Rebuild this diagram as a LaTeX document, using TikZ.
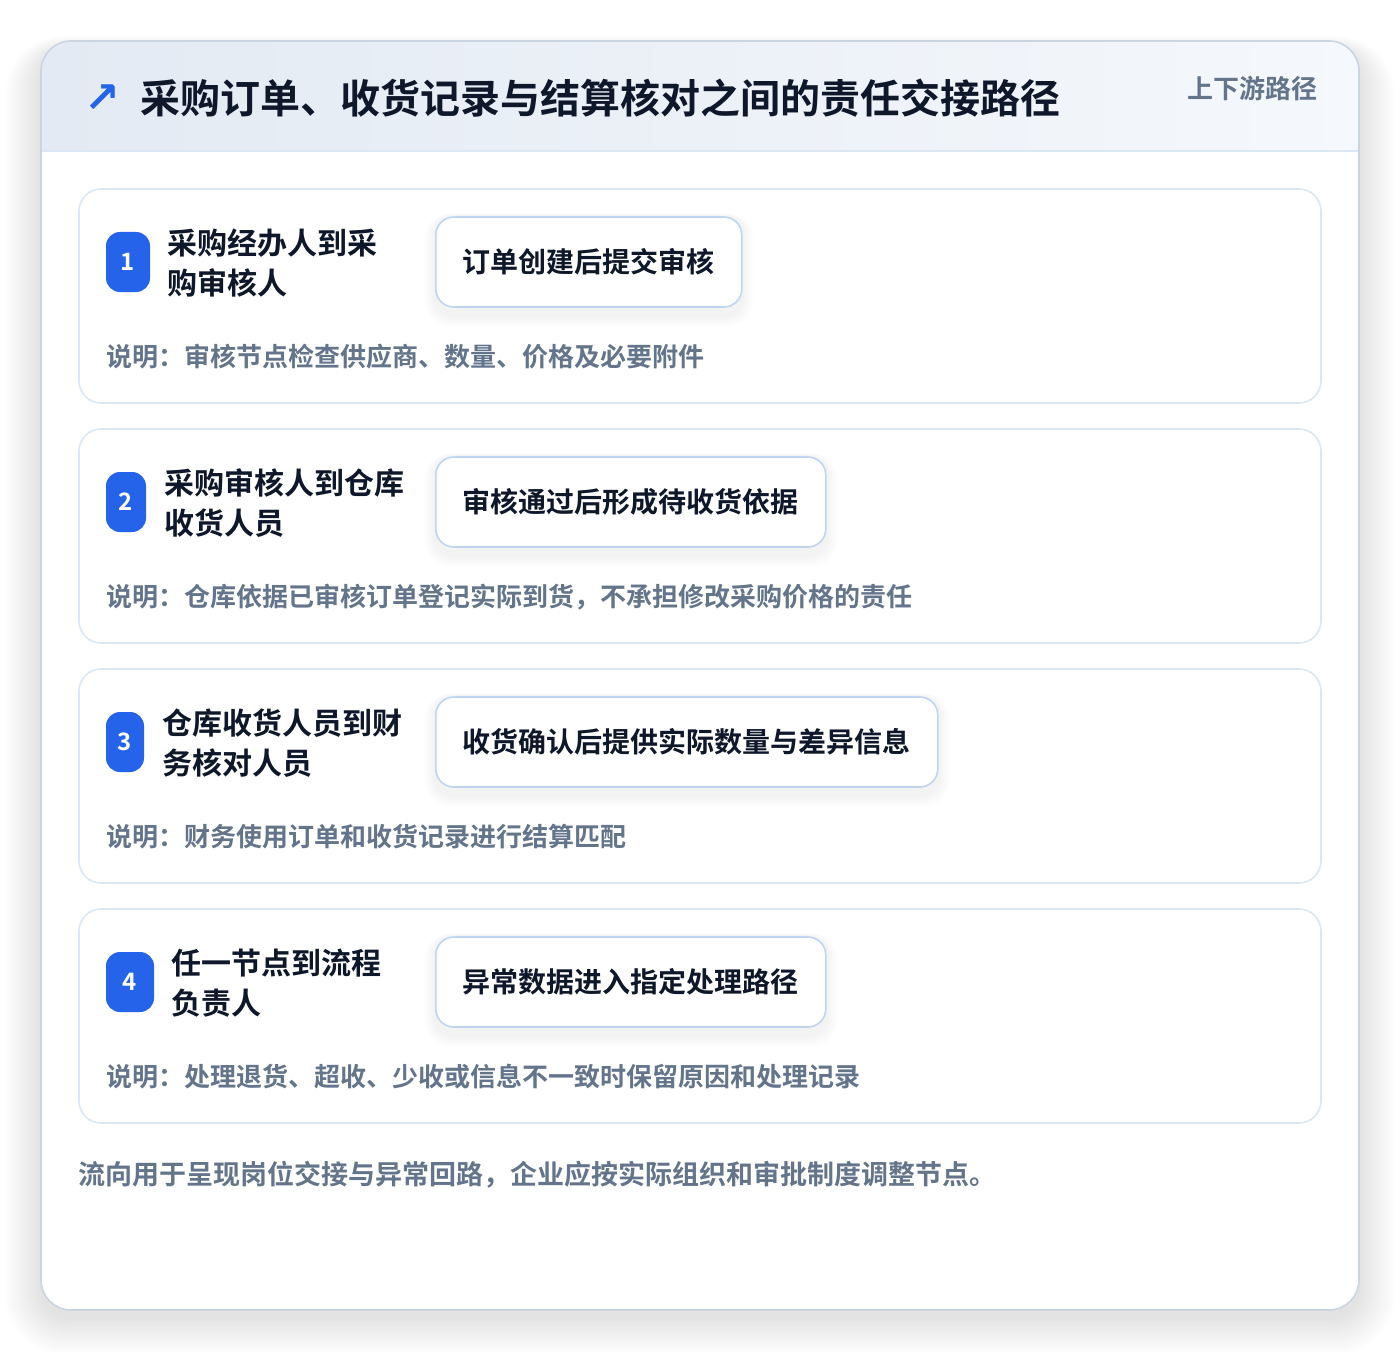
\documentclass[tikz,border=0pt]{standalone}
\usepackage{fontspec}
\setmainfont{Noto Sans CJK SC}[BoldFont={Noto Sans CJK SC Bold}]
\newfontfamily\dejavu{DejaVu Sans}
\definecolor{accent}{HTML}{2563EB}
\definecolor{ink}{HTML}{0F172A}
\definecolor{muted}{HTML}{64748B}
\definecolor{cardline}{HTML}{DBE7F5}
\definecolor{boxline}{HTML}{BFD5F2}
\definecolor{outerline}{HTML}{CBD5E1}
\definecolor{headL}{HTML}{E3EAF3}
\definecolor{headR}{HTML}{F5F8FC}
\pgfdeclarelayer{bg}
\pgfdeclarelayer{mid}
\pgfsetlayers{bg,mid,main}
\tikzset{
  badge/.style={fill=accent, rounded corners=10.5pt, minimum height=45pt, inner sep=0pt,
    text=white, font=\bfseries\fontsize{18}{18}\selectfont},
  lbl/.style={anchor=west, align=left, inner sep=0pt, text=ink,
    font=\bfseries\fontsize{22.5}{30}\selectfont},
  actbox/.style={anchor=west, draw=boxline, line width=1.2pt, fill=white, rounded corners=13.5pt,
    minimum height=67.5pt, inner xsep=20.25pt, inner ysep=0pt, text=ink,
    font=\bfseries\fontsize{21}{21}\selectfont},
  note/.style={anchor=west, inner sep=0pt, text=muted, font=\bfseries\fontsize{19.5}{24}\selectfont},
  cardbox/.style={draw=cardline, line width=1.2pt, fill=white, rounded corners=16.5pt}
}
\begin{document}
\begin{tikzpicture}[x=0.75pt,y=-0.75pt]
\useasboundingbox (0,0) rectangle (1400,1352);
\begin{pgfonlayer}{bg}
\fill[white] (0,0) rectangle (1400,1352);
% outer shadow
\foreach \i [evaluate=\i as \r using 30+\i] in {1,...,28}
  \fill[black,opacity=0.0028,rounded corners=\r*0.75pt] (41-\i*1.3,50-\i*0.5) rectangle (1359+\i*1.3,1318+\i*1.3);
% outer card
\fill[white,rounded corners=22.5pt] (41,41) rectangle (1359,1310);
\begin{scope}
  \clip[rounded corners=22.5pt] (41,41) rectangle (1359,300);
  \shade[left color=headL,right color=headR] (41,41) rectangle (1359,151);
\end{scope}
\draw[cardline,line width=1.2pt] (41,151) -- (1359,151);
\draw[outerline,line width=1.2pt,rounded corners=22.5pt] (41,41) rectangle (1359,1310);
% step cards
\foreach \t in {189,429,669,909}
  \draw[cardbox] (79,\t) rectangle (1321,\t+214);
\end{pgfonlayer}

% header
\node[text=accent, inner sep=0pt, font=\dejavu\bfseries\fontsize{32}{32}\selectfont] (icon) at (102,99) {↗};
\node[anchor=west, inner sep=0pt, text=ink, font=\bfseries\fontsize{30}{36}\selectfont] (title) at (140,98)
  {采购订单、收货记录与结算核对之间的责任交接路径};
\node[anchor=east, inner sep=0pt, text=muted, font=\bfseries\fontsize{19.5}{24}\selectfont] (tag) at (1318,89)
  {上下游路径};

% card 1
\node[badge, minimum width=33pt] (b1) at (128,262) {1};
\node[lbl] (l1) at (167,263) {采购经办人到采\\购审核人};
\node[actbox] (a1) at (435,262) {订单创建后提交审核};
\node[note] (n1) at (106,357) {说明：审核节点检查供应商、数量、价格及必要附件};

% card 2
\node[badge, minimum width=30pt] (b2) at (126,502) {2};
\node[lbl] (l2) at (164,503) {采购审核人到仓库\\收货人员};
\node[actbox] (a2) at (435,502) {审核通过后形成待收货依据};
\node[note] (n2) at (106,597) {说明：仓库依据已审核订单登记实际到货，不承担修改采购价格的责任};

% card 3
\node[badge, minimum width=28.5pt] (b3) at (125,742) {3};
\node[lbl] (l3) at (162,743) {仓库收货人员到财\\务核对人员};
\node[actbox] (a3) at (435,742) {收货确认后提供实际数量与差异信息};
\node[note] (n3) at (106,837) {说明：财务使用订单和收货记录进行结算匹配};

% card 4
\node[badge, minimum width=36pt] (b4) at (130,982) {4};
\node[lbl] (l4) at (171,983) {任一节点到流程\\负责人};
\node[actbox] (a4) at (435,982) {异常数据进入指定处理路径};
\node[note] (n4) at (106,1077) {说明：处理退货、超收、少收或信息不一致时保留原因和处理记录};

% box shadows
\begin{pgfonlayer}{mid}
\foreach \n in {a1,a2,a3,a4}
  \foreach \j in {1,...,12}
    \fill[black,opacity=0.005,rounded corners=13.5pt+\j*0.5pt]
      ([xshift=-\j*0.7pt,yshift=-6pt-\j*0.7pt]\n.south west) rectangle ([xshift=\j*0.7pt,yshift=\j*0.2pt]\n.north east);
\end{pgfonlayer}

% footer
\node[note, font=\bfseries\fontsize{20.25}{24}\selectfont] (foot) at (78,1175)
  {流向用于呈现岗位交接与异常回路，企业应按实际组织和审批制度调整节点。};
\end{tikzpicture}
\end{document}
